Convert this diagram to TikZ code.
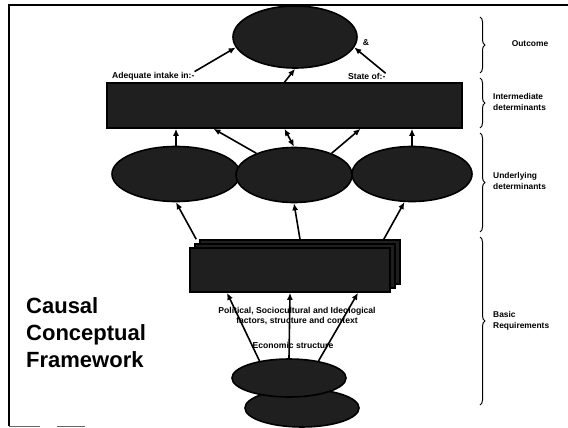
\documentclass[tikz,border=0pt]{standalone}
\usepackage{fontspec}
\setmainfont{Liberation Sans}
\usetikzlibrary{shapes.geometric,decorations.pathreplacing,arrows.meta}

\tikzset{
  blob/.style={ellipse,draw=black,line width=1.6pt,fill=black!88,inner sep=0pt},
  panel/.style={rectangle,draw=black,line width=1.6pt,fill=black!88,inner sep=0pt},
  link/.style={-{Latex[length=7pt,width=6pt]},line width=1.6pt},
  lbl/.style={font=\bfseries\fontsize{8.6}{10}\selectfont,inner sep=0pt},
  level/.style={font=\bfseries\fontsize{8.4}{11}\selectfont,align=left,anchor=west,inner sep=0pt},
  curly/.style={decorate,decoration={brace,amplitude=5pt},line width=1pt}
}

\begin{document}
\begin{tikzpicture}[x=1pt,y=-1pt]
  \useasboundingbox (0,0) rectangle (568,428);
  % frame
  \draw[line width=1.6pt] (568,5) -- (9,5) -- (9,426);
  \draw[line width=1pt,black!60] (9,426) -- (40,426) (57,426) -- (85,426);

  % outcome
  \node[blob,minimum width=124pt,minimum height=62pt] (outcome) at (295,37) {};
  \node[lbl] (amp) at (366,43) {\&};

  % intermediate determinants
  \node[panel,minimum width=355pt,minimum height=45pt] (inter) at (284.5,105.5) {};
  \node[lbl,anchor=south west] (intake) at (112,80) {Adequate intake in:-};
  \node[lbl,anchor=south west] (state) at (348,80) {State of:-};

  % underlying determinants
  \node[blob,minimum width=128pt,minimum height=55pt] (under1) at (176,174) {};
  \node[blob,minimum width=116pt,minimum height=55pt] (under2) at (294,175) {};
  \node[blob,minimum width=120pt,minimum height=55pt] (under3) at (412,174) {};

  % basic requirements, stacked sheets
  \foreach \i/\d in {3/10,2/5,1/0} {
    \node[panel,minimum width=200pt,minimum height=44pt] (basic\i) at (290+\d,270-0.8*\d) {};
  }

  % economic structure
  \node[blob,minimum width=114pt,minimum height=38pt] (eco2) at (302,408) {};
  \node[blob,minimum width=114pt,minimum height=38pt] (eco1) at (289,378) {};

  % arrows
  \draw[link] (intake.north east) -- (outcome.190);
  \draw[link] (inter.north) -- (outcome.south);
  \draw[link] (state.north east) -- (outcome.350);

  \draw[link] (under1.north) -- (under1.north |- inter.south);
  \draw[link] (under2.150) -- ([xshift=-71pt]inter.south);
  \draw[link,{Latex[length=7pt,width=6pt]}-{Latex[length=7pt,width=6pt]}] (under2.north) -- (inter.south);
  \draw[link] (under2.30) -- ([xshift=76pt]inter.south);
  \draw[link] (under3.north) -- (under3.north |- inter.south);

  \draw[link] ([xshift=-3pt]basic3.north west) -- (under1.south);
  \draw[link] (basic3.north) -- (under2.south);
  \draw[link] ([xshift=-17pt]basic3.north east) -- (under3.255);

  \draw[link] (eco1.150) -- ([xshift=-63pt]basic1.south);
  \draw[link] (eco1.north) -- (basic1.south);
  \draw[link] (eco1.30) -- ([xshift=68pt]basic1.south);

  \node[lbl,align=center] (context) at (297,316) {Political, Sociocultural and Ideological\\factors, structure and context};
  \node[lbl] (economic) at (293,345) {Economic structure};

  % title
  \node[font=\bfseries\fontsize{22}{27}\selectfont,align=left,anchor=north west,inner sep=0pt] (title) at (26,297) {Causal\\Conceptual\\Framework};

  % levels
  \draw[curly] (480,17) -- (480,73);
  \draw[curly] (480,78) -- (480,128);
  \draw[curly] (480,133) -- (480,232);
  \draw[curly] (480,237) -- (480,405);
  \node[lbl,font=\bfseries\fontsize{8.4}{11}\selectfont] (outlbl) at (530,44) {Outcome};
  \node[level] (interlbl) at (493,102) {Intermediate\\determinants};
  \node[level] (underlbl) at (493,181) {Underlying\\determinants};
  \node[level] (basiclbl) at (493,321) {Basic\\Requirements};
\end{tikzpicture}
\end{document}
